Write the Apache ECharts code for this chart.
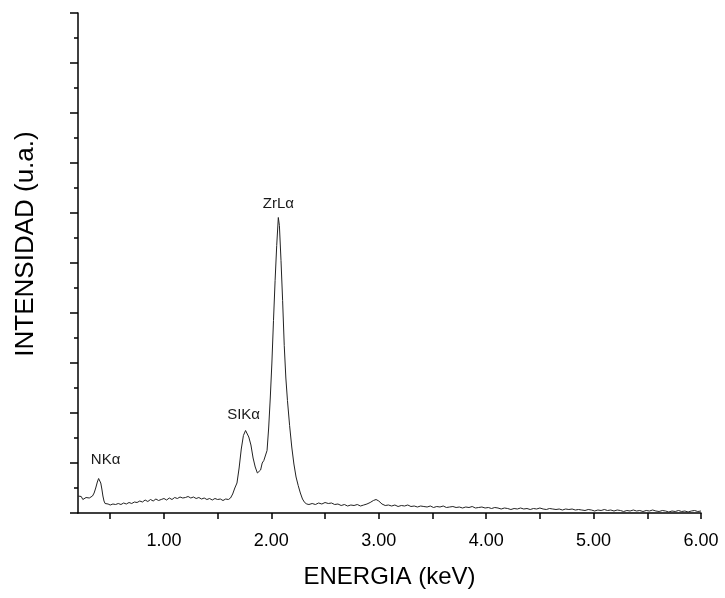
<!DOCTYPE html>
<html>
<head>
<meta charset="utf-8">
<script src="https://cdn.jsdelivr.net/npm/echarts@6/dist/echarts.min.js"></script>
<style>
html,body{margin:0;padding:0;background:#fff;}
#chart{width:725px;height:598px;}
</style>
</head>
<body>
<div id="chart"></div>
<script>
// Energy (keV)
var energy = [
0.200,0.215,0.230,0.245,0.260,0.275,0.290,0.305,0.320,0.335,0.350,0.365,0.380,0.392,0.402,0.412,0.422,0.432,0.442,0.452,0.465,0.480,
0.500,0.525,0.550,0.575,0.600,0.625,0.650,0.675,0.700,0.725,0.750,0.775,0.800,0.825,0.850,0.875,0.900,0.925,0.950,0.975,
1.000,1.025,1.050,1.075,1.100,1.125,1.150,1.175,1.200,1.225,1.250,1.275,1.300,1.325,1.350,1.375,1.400,1.425,1.450,1.475,
1.500,1.525,1.550,1.575,1.600,1.620,
1.640,1.660,1.680,1.700,1.720,1.740,1.760,1.775,1.790,1.810,1.830,1.850,1.870,1.885,1.900,1.915,1.930,1.945,1.960,1.975,1.990,
2.005,2.020,2.035,2.050,2.065,2.075,2.090,2.105,2.120,2.135,2.150,2.170,2.190,2.210,2.230,2.250,2.270,2.290,2.310,2.330,2.350,
2.38,2.41,2.44,2.47,2.50,2.53,2.56,2.59,2.62,2.65,2.68,2.71,2.74,2.77,2.80,2.83,2.86,2.89,2.92,2.95,2.975,
3.00,3.03,3.06,3.09,3.12,3.15,3.18,3.21,3.24,3.27,3.30,3.33,3.36,3.39,3.42,3.45,3.48,3.51,3.54,3.57,3.60,3.63,3.66,3.69,3.72,3.75,3.78,3.81,3.84,3.87,3.90,3.93,3.96,3.99,
4.02,4.05,4.08,4.11,4.14,4.17,4.20,4.23,4.26,4.29,4.32,4.35,4.38,4.41,4.44,4.47,4.50,4.53,4.56,4.59,4.62,4.65,4.68,4.71,4.74,4.77,4.80,4.83,4.86,4.89,4.92,4.95,4.98,
5.01,5.04,5.07,5.10,5.13,5.16,5.19,5.22,5.25,5.28,5.31,5.34,5.37,5.40,5.43,5.46,5.49,5.52,5.55,5.58,5.61,5.64,5.67,5.70,5.73,5.76,5.79,5.82,5.85,5.88,5.91,5.94,5.97,6.00
];
// Intensity (arbitrary units)
var intensity = [
0.34,0.31,0.33,0.27,0.29,0.31,0.28,0.30,0.29,0.34,0.40,0.50,0.62,0.69,0.68,0.60,0.48,0.34,0.24,0.19,0.17,0.18,
0.16,0.18,0.17,0.19,0.17,0.20,0.18,0.21,0.19,0.22,0.21,0.24,0.22,0.26,0.23,0.27,0.24,0.28,0.25,0.27,
0.29,0.26,0.30,0.27,0.31,0.29,0.32,0.30,0.31,0.33,0.30,0.32,0.29,0.31,0.28,0.30,0.27,0.29,0.26,0.29,
0.27,0.28,0.25,0.28,0.27,0.30,
0.38,0.50,0.60,0.90,1.28,1.55,1.65,1.63,1.52,1.36,1.10,0.92,0.80,0.76,0.86,1.00,1.05,1.02,1.25,1.70,2.30,
3.00,3.85,4.65,5.35,5.91,5.75,5.05,4.25,3.35,2.70,2.25,1.75,1.32,0.98,0.72,0.55,0.40,0.28,0.21,0.18,0.17,
0.19,0.17,0.20,0.18,0.21,0.19,0.20,0.17,0.18,0.15,0.17,0.14,0.16,0.15,0.17,0.14,0.16,0.18,0.21,0.25,0.27,
0.24,0.18,0.15,0.16,0.14,0.16,0.13,0.15,0.14,0.16,0.13,0.14,0.12,0.14,0.13,0.12,0.14,0.11,0.13,0.12,0.14,0.11,0.12,0.13,0.11,0.12,0.10,0.12,0.11,0.13,0.10,0.11,0.12,0.10,
0.11,0.09,0.11,0.10,0.08,0.10,0.09,0.07,0.09,0.08,0.10,0.08,0.09,0.07,0.09,0.08,0.10,0.08,0.07,0.09,0.08,0.07,0.08,0.06,0.08,0.07,0.08,0.06,0.07,0.06,0.05,0.07,0.06,
0.04,0.06,0.05,0.07,0.05,0.06,0.04,0.06,0.05,0.03,0.05,0.04,0.06,0.04,0.05,0.03,0.05,0.04,0.06,0.04,0.03,0.05,0.04,0.02,0.04,0.03,0.05,0.03,0.04,0.02,0.04,0.05,0.03,0.04
];
// X tick labels / tick positions
var xLabelValues = [1, 2, 3, 4, 5, 6];
var xTickValues = [0.5, 1, 1.5, 2, 2.5, 3, 3.5, 4, 4.5, 5, 5.5, 6];
// Peak annotations: name, energy, intensity at peak
var peakNames = ['NK\u03b1', 'SIK\u03b1', 'ZrL\u03b1'];
var peakEnergy = [0.392, 1.760, 2.065];
var peakIntensity = [0.69, 1.65, 5.91];

var FONT = '"Liberation Sans", Arial, sans-serif';
var labelOffsets = [[7, -19], [-2, -16], [0, -14]];

var seriesData = energy.map(function (e, i) { return [e, intensity[i]]; });
var markData = peakNames.map(function (n, i) {
  return {
    name: n,
    coord: [peakEnergy[i], peakIntensity[i]],
    symbol: 'circle',
    symbolSize: 0,
    label: {
      show: true, formatter: n, position: 'inside', offset: labelOffsets[i],
      color: '#1a1a1a', fontSize: 15, fontFamily: FONT
    }
  };
});

var chart = echarts.init(document.getElementById('chart'), null, { renderer: 'canvas' });
chart.setOption({
  backgroundColor: '#ffffff',
  animation: false,
  grid: { left: 78, right: 24, top: 13, bottom: 85 },
  xAxis: {
    type: 'value', min: 0.2, max: 6,
    name: 'ENERGIA (keV)', nameLocation: 'middle', nameGap: 52,
    nameTextStyle: { fontSize: 24, color: '#000', fontFamily: FONT },
    axisLine: { show: true, onZero: false, lineStyle: { color: '#000', width: 1.5 } },
    axisTick: { show: true, inside: false, length: 6, customValues: xTickValues, lineStyle: { color: '#000', width: 1.5 } },
    axisLabel: { show: true, customValues: xLabelValues, margin: 19, fontSize: 18, color: '#000', fontFamily: FONT,
      formatter: function (v) { return v.toFixed(2); } },
    splitLine: { show: false }
  },
  yAxis: {
    type: 'value', min: 0, max: 10, interval: 1,
    name: 'INTENSIDAD (u.a.)', nameLocation: 'middle', nameGap: 39, nameRotate: 90,
    nameTextStyle: { fontSize: 26, color: '#000', fontFamily: FONT, padding: [0, 0, 0, 38] },
    axisLine: { show: true, onZero: false, lineStyle: { color: '#000', width: 1.5 } },
    axisTick: { show: true, inside: false, length: 8, lineStyle: { color: '#000', width: 1.5 } },
    minorTick: { show: true, splitNumber: 2, length: 4, lineStyle: { color: '#000', width: 1.5 } },
    axisLabel: { show: false },
    splitLine: { show: false },
    minorSplitLine: { show: false }
  },
  series: [{
    type: 'line',
    data: seriesData,
    showSymbol: false,
    symbol: 'none',
    smooth: false,
    lineStyle: { color: '#222', width: 1 },
    markPoint: { data: markData, silent: true }
  }]
});
</script>
</body>
</html>
